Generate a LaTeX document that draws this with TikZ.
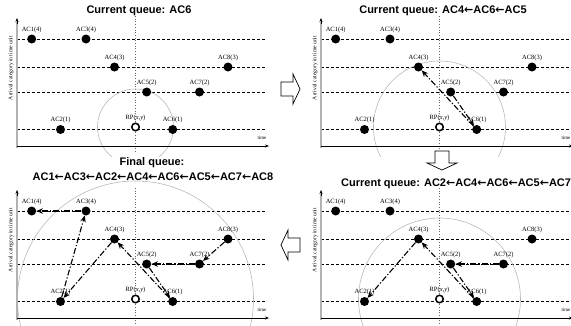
\documentclass[tikz,border=0pt]{standalone}
\usepackage{fontspec}
\setmainfont{Liberation Serif}
\newfontfamily\titlefont{Liberation Sans}
\newfontfamily\arrfont{DejaVu Sans}
\usetikzlibrary{arrows.meta}

\newcommand\qto{{\arrfont ←}}
\newcommand\drawpanel[4]{%
	\begin{scope}[shift={(#2,#3)}]
		\foreach \y in {39,67,92,129.5}
			\draw[band] (17,\y) -- (266,\y);
		\draw[guide] (135.5,16) -- (135.5,152);
		\begin{scope}
			\clip (0,-10) rectangle (300,156);
			\draw[reach] (135.5,127) circle (#4);
		\end{scope}
		\draw[gray!60, line width=1.6pt] (17,148) -- (17,22);
		\draw[-{Stealth[length=4pt,width=3pt]}, line width=0.5pt] (17,24) -- (17,18);
		\draw[-{Stealth[length=4pt,width=3pt]}, line width=0.7pt] (17,146) -- (269,146);
		\node[font=\fontsize{5}{6}\selectfont] (#1time) at (262,138) {time};
		\node[rotate=90, font=\fontsize{5.6}{6}\selectfont] (#1ylab) at (11,68) {Arrival category in time unit};
		\foreach \n/\x/\y/\t in {ac1/31.7/39/AC1(4), ac3/86/39/AC3(4), ac4/114.5/67/AC4(3), ac8/228/67/AC8(3),
			ac5/146.7/92/AC5(2), ac7/199.5/92/AC7(2), ac2/60.5/129.5/AC2(1), ac6/172.7/129.5/AC6(1)}
			\node[ac, label={[tag]above:\t}] (#1\n) at (\x,\y) {};
		\node[rp, label={[tag]above:RP(\textit{x},\textit{y})}] (#1rp) at (135.5,127) {};
	\end{scope}}

\begin{document}
\begin{tikzpicture}[>={Stealth[length=6.5pt,width=5.5pt]}, x=1pt, y=-1pt,
	band/.style={dash pattern=on 3pt off 2pt, line width=0.65pt},
	guide/.style={gray!80!black, dotted, line width=0.7pt},
	reach/.style={gray!55, line width=0.6pt},
	ac/.style={circle, fill=black, inner sep=0pt, minimum size=9pt},
	rp/.style={circle, draw, fill=white, line width=1.5pt, inner sep=0pt, minimum size=7.5pt},
	tag/.style={font=\fontsize{6.5}{7}\selectfont, inner sep=0.5pt, label distance=1.2pt},
	route/.style={->, line width=1.1pt, dash pattern=on 6pt off 2pt on 1.2pt off 2pt},
	heading/.style={font=\titlefont\bfseries\fontsize{11}{13}\selectfont, inner sep=0pt},
	flow/.pic={\draw[fill=white, line width=0.7pt] (-12,-7) -- (0,-7) -- (0,-15) -- (7,0) -- (0,15) -- (0,7) -- (-12,7) -- cycle;}]
	\useasboundingbox (0,0) rectangle (571,325);
	\clip (0,0) rectangle (571,325);
	\drawpanel{p1}{0}{0}{38}
	\drawpanel{p2}{304}{0}{66}
	\drawpanel{p3}{0}{172}{118}
	\drawpanel{p4}{304}{172}{81}
	\node[heading] (q1) at (139,11) {Current queue: AC6};
	\node[heading] (q2) at (443,11) {Current queue: AC4\qto AC6\qto AC5};
	\node[heading] (q3) at (152,163) {Final queue:};
	\node[heading] (q3b) at (153,177) {AC1\qto AC3\qto AC2\qto AC4\qto AC6\qto AC5\qto AC7\qto AC8};
	\node[heading, anchor=west] (q4) at (341,184) {Current queue: AC2\qto AC4\qto AC6\qto AC5\qto AC7};
	\foreach \a/\b in {ac5/ac6, ac6/ac4}
		\draw[route] (p2\a) -- (p2\b);
	\foreach \a/\b in {ac7/ac5, ac5/ac6, ac6/ac4, ac4/ac2}
		\draw[route] (p4\a) -- (p4\b);
	\foreach \a/\b in {ac8/ac7, ac7/ac5, ac5/ac6, ac6/ac4, ac4/ac2, ac2/ac3, ac3/ac1}
		\draw[route] (p3\a) -- (p3\b);
	\pic at (293,89) {flow};
	\pic[rotate=-90] at (442,163) {flow};
	\pic[rotate=180] at (288,245) {flow};
\end{tikzpicture}
\end{document}
